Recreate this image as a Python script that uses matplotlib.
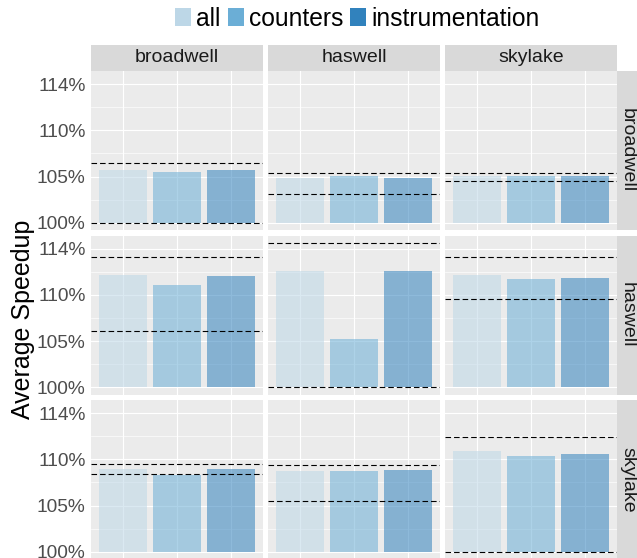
import matplotlib.pyplot as plt
from matplotlib.patches import Patch

plt.rcParams['font.family'] = ['Liberation Sans', 'DejaVu Sans']

# Datos (filas = arquitectura de la fila, columnas = arquitectura de la columna)
archs = ['broadwell', 'haswell', 'skylake']
methods = ['all', 'counters', 'instrumentation']
colors = ['#bdd7e7', '#6baed6', '#3182bd']

# barras: una lista por columna, valores en % (all, counters, instrumentation)
bars_broadwell = [[105.41, 105.20, 105.41], [104.55, 104.79, 104.58], [104.79, 104.79, 104.79]]
bars_haswell = [[111.49, 110.46, 111.39], [112.00, 104.91, 111.90], [111.49, 111.08, 111.18]]
bars_skylake = [[108.49, 107.91, 108.49], [108.32, 108.32, 108.42], [110.38, 109.87, 110.07]]

# lineas discontinuas (alta, baja) por columna
lines_broadwell = [[106.10, 100.00], [105.10, 102.94], [105.10, 104.24]]
lines_haswell = [[113.37, 105.80], [114.81, 100.00], [113.37, 109.02]]
lines_skylake = [[108.97, 108.04], [108.94, 105.23], [111.75, 100.00]]

ytick_labels = ['100%', '105%', '110%', '114%']

bars_by_row = [bars_broadwell, bars_haswell, bars_skylake]
lines_by_row = [lines_broadwell, lines_haswell, lines_skylake]

W, H = 637, 558
fig = plt.figure(figsize=(W / 100, H / 100), dpi=100)


def box(x0, y0, x1, y1):
    return [x0 / W, 1 - y1 / H, (x1 - x0) / W, (y1 - y0) / H]


col_x = [(91, 263), (268, 440), (445, 617)]
row_y = [(71, 230), (235.5, 394.5), (400, 559)]
yticks = [100, 104.75, 109.5, 114.25]
yminor = [102.375, 107.125, 111.875]
x = [1, 2, 3]
base = 100

for r in range(3):
    for c in range(3):
        ax = fig.add_axes(box(col_x[c][0], row_y[r][0], col_x[c][1], row_y[r][1]))
        ax.set_facecolor('#ebebeb')
        for s in ax.spines.values():
            s.set_visible(False)
        ax.set_xlim(0.4, 3.6)
        ax.set_ylim(99.25, 115.6)
        ax.set_xticks(x)
        ax.set_xticklabels([])
        ax.set_yticks(yticks)
        ax.set_yticks(yminor, minor=True)
        if c == 0:
            ax.set_yticklabels(ytick_labels, fontsize=13.8, color='#4d4d4d')
        else:
            ax.set_yticklabels([])
        ax.tick_params(which='both', length=0, pad=3.8)
        ax.set_axisbelow(True)
        ax.grid(which='major', color='white', lw=0.8)
        ax.grid(which='minor', axis='y', color='white', lw=0.45)

        heights = [v - base for v in bars_by_row[r][c]]
        ax.bar(x, heights, bottom=base, width=0.9, color=colors, alpha=0.55, zorder=2)
        for v in lines_by_row[r][c]:
            ax.axhline(v, color='black', lw=0.8, ls=(0, (5, 2.7)), zorder=3)

# tiras superiores
for c in range(3):
    s = fig.add_axes(box(col_x[c][0], 45, col_x[c][1], 71))
    s.set_facecolor('#d9d9d9')
    s.set_xticks([])
    s.set_yticks([])
    for sp in s.spines.values():
        sp.set_visible(False)
    fig.text((col_x[c][0] + col_x[c][1]) / 2 / W, 1 - 58 / H, archs[c],
             ha='center', va='center', fontsize=14, color='#1a1a1a')

# tiras laterales
for r in range(3):
    s = fig.add_axes(box(617, row_y[r][0], 643, row_y[r][1]))
    s.set_facecolor('#d9d9d9')
    s.set_xticks([])
    s.set_yticks([])
    for sp in s.spines.values():
        sp.set_visible(False)
    fig.text(627.5 / W, 1 - (row_y[r][0] + row_y[r][1]) / 2 / H, archs[r],
             ha='center', va='center', rotation=-90, fontsize=14, color='#1a1a1a')

fig.text(23 / W, 1 - 319.7 / H, 'Average Speedup', rotation=90,
         ha='center', va='center', fontsize=18, color='black')

handles = [Patch(facecolor=colors[i], label=methods[i]) for i in range(3)]
fig.legend(handles=handles, loc='center', bbox_to_anchor=(357.3 / W, 1 - 18.5 / H), ncol=3,
           frameon=False, fontsize=17.7, handlelength=0.65, handleheight=0.73,
           handletextpad=0.2, columnspacing=0.3, borderpad=0, borderaxespad=0)

fig.savefig('out.png', dpi=100)
